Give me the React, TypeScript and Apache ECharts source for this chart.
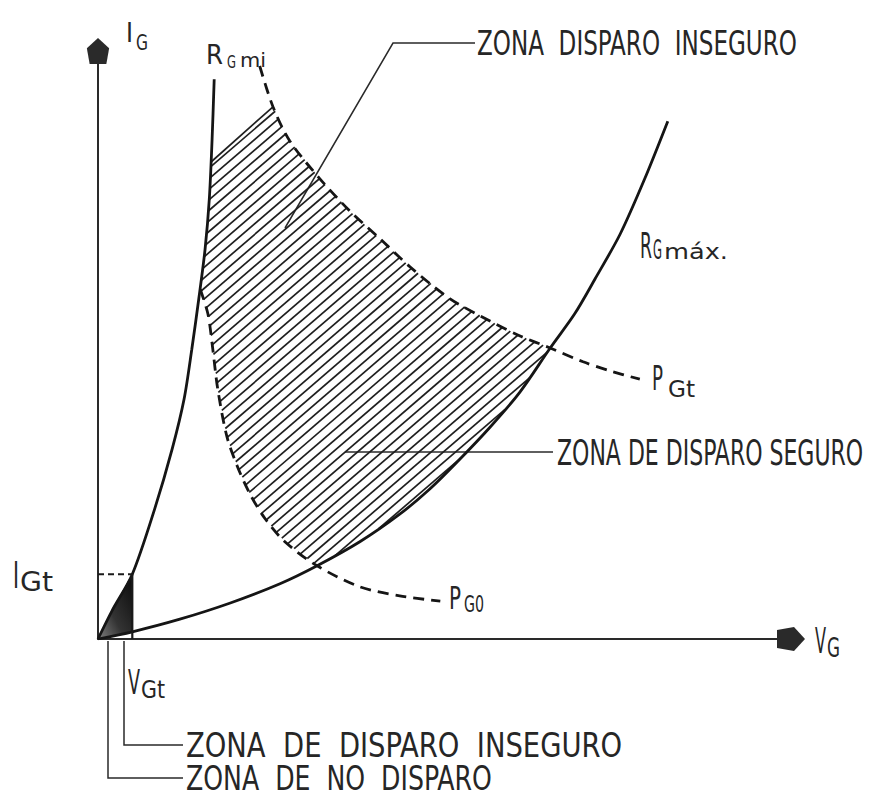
import React, { useEffect, useRef } from "react";
import * as echarts from "echarts";

const FONT = '"DejaVu Sans Condensed", "DejaVu Sans", sans-serif';
const INK = "#262626";

// Gate trigger point
const V_GT = 4.9;
const I_GT = 10.8;

// R_G min load line
const RGMIN_V = [0, 2.0, 4.9, 8.1, 10.6, 12.3, 13.4, 14.4, 15.3, 15.9, 16.3, 16.6];
const RGMIN_I = [0, 4.7, 10.8, 21.7, 31.7, 40.0, 48.3, 56.7, 65.0, 73.3, 83.3, 93.3];

// R_G max load line
const RGMAX_V = [0, 4.9, 11.7, 18.9, 26.0, 31.3, 37.4, 43.1, 47.4, 51.3, 56.0, 60.3, 64.6, 68.1, 71.0, 74.6, 78.1, 81.4];
const RGMAX_I = [0, 1.2, 3.3, 6.0, 9.2, 12.2, 16.2, 20.8, 25.0, 29.5, 35.3, 41.2, 48.5, 54.2, 60.0, 67.5, 76.7, 86.3];

// P_Gt power hyperbola
const PGT_V = [23.1, 25.0, 27.4, 31.7, 36.0, 40.3, 44.6, 50.3, 56.0, 60.3, 64.6, 69.3, 73.1, 77.4];
const PGT_I = [95.5, 88.7, 83.0, 76.7, 71.3, 66.7, 62.0, 56.7, 53.0, 50.5, 48.5, 46.2, 44.7, 43.3];

// P_G0 power hyperbola
const PG0_V = [14.6, 15.7, 16.4, 17.1, 18.4, 19.9, 21.7, 23.9, 26.7, 31.3, 37.4, 43.1, 48.9];
const PG0_I = [58.3, 54.2, 48.3, 41.7, 33.8, 28.8, 24.2, 20.0, 16.2, 12.2, 8.7, 7.2, 6.3];

// upper-left corner of the safe zone, on the R_G min line
const ZONE_CORNER = [16.15, 79.5];

const pts = (xs: number[], ys: number[]) => xs.map((x, i) => [x, ys[i]]);

const RGMIN = pts(RGMIN_V, RGMIN_I);
const RGMAX = pts(RGMAX_V, RGMAX_I);
const PGT = pts(PGT_V, PGT_I);
const PG0 = pts(PG0_V, PG0_I);

// safe-trigger zone outline: R_G min -> P_G0 -> R_G max -> P_Gt
const ZONE = [
  ZONE_CORNER,
  RGMIN[9],
  RGMIN[8],
  ...PG0.slice(0, 10),
  ...RGMAX.slice(6, 13),
  ...PGT.slice(1, 10).reverse(),
];

// unsafe zone under the trigger point
const TRIANGLE = [RGMIN[0], RGMIN[1], [V_GT, I_GT], RGMAX[1]];

const HATCH_ANGLE = 40.7;
const HATCH_GAP = 8;

const measureCtx =
  typeof document !== "undefined" ? document.createElement("canvas").getContext("2d") : null;

function label(text: string, x: number, baseline: number, capH: number, width: number) {
  const fontSize = capH / 0.729;
  let sx = 0.8;
  if (measureCtx) {
    measureCtx.font = `${fontSize}px ${FONT}`;
    const w = measureCtx.measureText(text).width;
    if (w > 0) sx = width / w;
  }
  return {
    type: "text",
    x,
    y: baseline - 0.346 * fontSize,
    scaleX: sx,
    silent: true,
    style: {
      text,
      fontFamily: FONT,
      fontSize,
      fill: INK,
      align: "left",
      verticalAlign: "middle",
    },
  };
}

function leader(points: number[][]) {
  return {
    type: "polyline",
    silent: true,
    shape: { points },
    style: { stroke: "#2a2a2a", lineWidth: 1.5, fill: null },
  };
}

const ARROW = "path://M12,0 L24,11 L21,28 L3,28 L0,11 Z";

function hatchItem(_params: any, api: any) {
  const poly = ZONE.map((p) => api.coord(p));
  const a = (HATCH_ANGLE * Math.PI) / 180;
  const dx = Math.cos(a);
  const dy = -Math.sin(a);
  const nx = Math.sin(a);
  const ny = Math.cos(a);
  const proj = poly.map((p: number[]) => p[0] * nx + p[1] * ny);
  const lo = Math.min(...proj);
  const hi = Math.max(...proj);
  const children: any[] = [];
  const n = poly.length;
  const stroke = { stroke: "#1f1f1f", lineWidth: 1.7 };
  for (let c = lo + HATCH_GAP * 0.6; c < hi; c += HATCH_GAP) {
    const hits: number[][] = [];
    for (let i = 0; i < n; i++) {
      const j = (i + 1) % n;
      const pa = proj[i];
      const pb = proj[j];
      if ((pa - c) * (pb - c) < 0) {
        const t = (c - pa) / (pb - pa);
        const x = poly[i][0] + t * (poly[j][0] - poly[i][0]);
        const y = poly[i][1] + t * (poly[j][1] - poly[i][1]);
        hits.push([x, y, x * dx + y * dy]);
      }
    }
    hits.sort((u, v) => u[2] - v[2]);
    for (let k = 0; k + 1 < hits.length; k += 2) {
      children.push({
        type: "line",
        shape: { x1: hits[k][0], y1: hits[k][1], x2: hits[k + 1][0], y2: hits[k + 1][1] },
        style: stroke,
      });
    }
  }
  // top edge of the zone is itself a hatch stroke
  const first = poly[0];
  const last = poly[n - 1];
  children.push({
    type: "line",
    shape: { x1: first[0], y1: first[1], x2: last[0], y2: last[1] },
    style: stroke,
  });
  return { type: "group", children };
}

function triangleItem(_params: any, api: any) {
  const points = TRIANGLE.map((p) => api.coord(p));
  return {
    type: "polygon",
    shape: { points },
    style: {
      fill: new echarts.graphic.LinearGradient(1, 0, 0, 1, [
        { offset: 0, color: "#0a0a0a" },
        { offset: 0.6, color: "#333333" },
        { offset: 1, color: "#808080" },
      ]),
      stroke: "#1a1a1a",
      lineWidth: 1,
    },
  };
}

const axisCommon = {
  type: "value",
  axisTick: { show: false },
  axisLabel: { show: false },
  splitLine: { show: false },
};

const curve = (data: number[][], dashed: boolean, width: number) => ({
  type: "line",
  data,
  smooth: 0.3,
  symbol: "none",
  silent: true,
  z: 4,
  lineStyle: {
    color: "#151515",
    width,
    type: dashed ? [11, 7] : "solid",
  },
});

const option = {
  animation: false,
  backgroundColor: "#ffffff",
  grid: { left: 98, top: 51, width: 693, height: 588, containLabel: false },
  xAxis: {
    ...axisCommon,
    min: 0,
    max: 99,
    axisLine: {
      show: true,
      onZero: false,
      symbol: ["none", ARROW],
      symbolSize: [25, 28],
      lineStyle: { color: "#2a2a2a", width: 2 },
    },
  },
  yAxis: {
    ...axisCommon,
    min: 0,
    max: 98,
    axisLine: {
      show: true,
      onZero: false,
      symbol: ["none", ARROW],
      symbolSize: [25, 26],
      lineStyle: { color: "#2a2a2a", width: 2 },
    },
  },
  series: [
    {
      type: "custom",
      name: "Zona de disparo seguro",
      renderItem: hatchItem,
      data: [[0, 0]],
      silent: true,
      z: 2,
    },
    {
      type: "custom",
      name: "Zona de disparo inseguro",
      renderItem: triangleItem,
      data: [[0, 0]],
      silent: true,
      z: 3,
    },
    curve(RGMIN, false, 2.8),
    curve(RGMAX, false, 2.8),
    curve(PGT, true, 2.8),
    curve(PG0, true, 2.8),
    {
      type: "line",
      data: [
        [0, I_GT],
        [V_GT, I_GT],
      ],
      symbol: "none",
      silent: true,
      z: 4,
      lineStyle: { color: "#1a1a1a", width: 2, type: [6, 4] },
    },
    {
      type: "line",
      data: [
        [V_GT, I_GT],
        [V_GT, 0],
      ],
      symbol: "none",
      silent: true,
      z: 4,
      lineStyle: { color: "#1a1a1a", width: 2.2 },
    },
  ],
  graphic: [
    // leaders
    leader([
      [285, 228],
      [393, 43],
      [475, 43],
    ]),
    leader([
      [345, 452],
      [553, 452],
    ]),
    leader([
      [124, 641],
      [124, 745],
      [183, 745],
    ]),
    leader([
      [108, 641],
      [108, 778],
      [183, 778],
    ]),
    // axis names
    label("I", 126, 42, 19, 7),
    label("G", 136, 50, 16, 12),
    label("V", 815, 653, 26, 11),
    label("G", 827, 657, 19, 13),
    // curve names
    label("R", 206, 64, 19, 17),
    label("G", 227, 68, 13, 9),
    label("mi", 240, 67, 14, 26),
    label("R", 640, 258, 26, 12),
    label("G", 653, 259, 19, 9),
    label("máx.", 664, 259, 16, 64),
    label("P", 652, 390, 25, 11),
    label("Gt", 668, 397, 17, 27),
    label("P", 449, 609, 23, 12),
    label("G0", 464, 612, 17, 20),
    // trigger point
    label("I", 13, 588, 27, 6),
    label("Gt", 20, 591, 19, 33),
    label("V", 128, 694, 25, 12),
    label("Gt", 141, 698, 18, 24),
    // zone captions
    label("ZONA  DISPARO  INSEGURO", 477, 55, 25, 320),
    label("ZONA DE DISPARO SEGURO", 557, 465, 26, 306),
    label("ZONA  DE  DISPARO  INSEGURO", 186, 757, 24, 436),
    label("ZONA  DE  NO  DISPARO", 186, 790, 24, 306),
  ],
};

export default function App() {
  const ref = useRef<HTMLDivElement>(null);
  useEffect(() => {
    if (!ref.current) return;
    const chart = echarts.init(ref.current, undefined, { renderer: "svg" });
    chart.setOption(option as any);
    return () => chart.dispose();
  }, []);
  return (
    <div
      ref={ref}
      style={{ position: "absolute", left: 0, top: 0, width: 869, height: 797, background: "#fff" }}
    />
  );
}
